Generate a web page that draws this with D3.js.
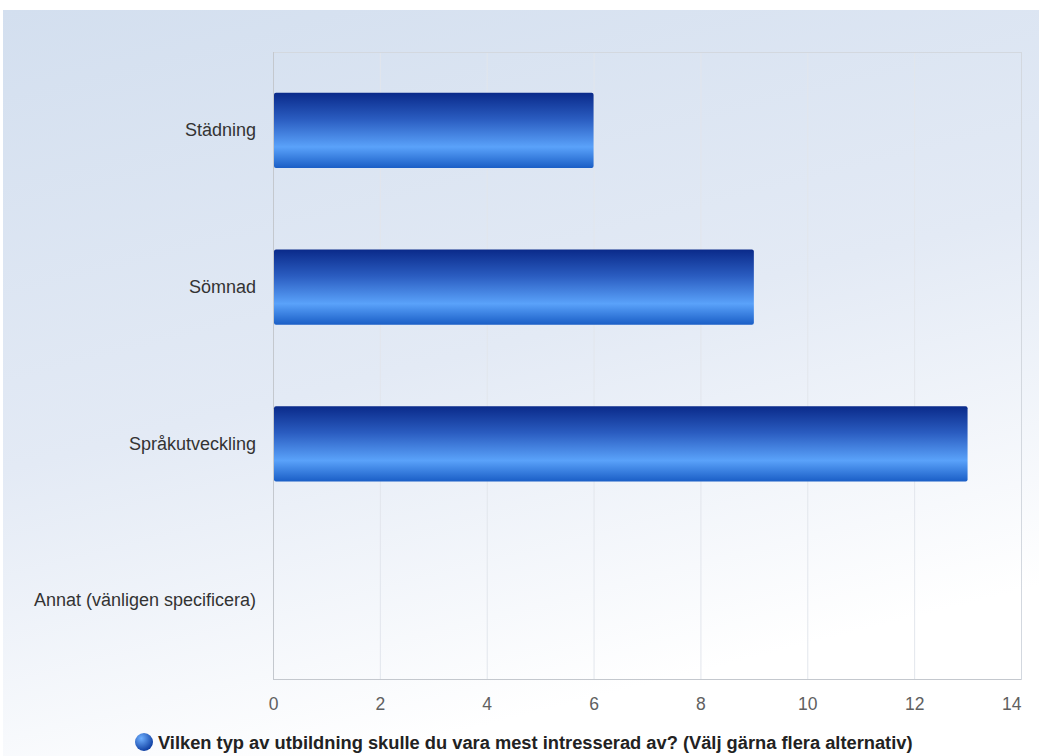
<!DOCTYPE html>
<html><head><meta charset="utf-8">
<script src="https://cdn.jsdelivr.net/npm/d3@7"></script>
<style>body{margin:0;background:#fff;}svg{display:block;font-family:"Liberation Sans",Arial,sans-serif;}</style>
</head><body>
<svg id="c" width="1039" height="756"></svg>
<script>
const categories = ["Städning", "Sömnad", "Språkutveckling", "Annat (vänligen specificera)"];
const values = [6, 9, 13, 0];
const xTicks = [0, 2, 4, 6, 8, 10, 12, 14];
const seriesName = "Vilken typ av utbildning skulle du vara mest intresserad av? (Välj gärna flera alternativ)";

const svg = d3.select("#c");
const W = 1039, H = 756;
const m = {left: 273, top: 52, right: 1021, bottom: 679};
const defs = svg.append("defs");
const bg = defs.append("linearGradient").attr("id","bg").attr("x1","0").attr("y1","0").attr("x2","0.35").attr("y2","1");
bg.append("stop").attr("offset","0").attr("stop-color","#d3dfef");
bg.append("stop").attr("offset","0.55").attr("stop-color","#e3eaf5");
bg.append("stop").attr("offset","1").attr("stop-color","#ffffff");
const bar = defs.append("linearGradient").attr("id","bar").attr("x1","0").attr("y1","0").attr("x2","0").attr("y2","1");
[["0","#0a2a8a"],["0.35","#2a5cc0"],["0.72","#5aa2fa"],["1","#1a5ec6"]].forEach(s=>bar.append("stop").attr("offset",s[0]).attr("stop-color",s[1]));
const leg = defs.append("radialGradient").attr("id","leg").attr("cx","0.35").attr("cy","0.3").attr("r","0.75");
leg.append("stop").attr("offset","0").attr("stop-color","#6fb0ff");
leg.append("stop").attr("offset","1").attr("stop-color","#0b3a9e");

svg.append("rect").attr("x",3).attr("y",10).attr("width",W-3).attr("height",H-10).attr("fill","url(#bg)");

const x = d3.scaleLinear().domain([0,14]).range([m.left, m.right]);
const y = d3.scaleBand().domain(categories).range([m.top, m.bottom]).paddingInner(0.52).paddingOuter(0.26);

// grid
svg.append("g").selectAll("line").data(xTicks.slice(1,-1)).join("line")
  .attr("x1",d=>x(d)+0.5).attr("x2",d=>x(d)+0.5).attr("y1",m.top).attr("y2",m.bottom)
  .attr("stroke","#e2e6ec").attr("stroke-width",1);
svg.append("rect").attr("x",m.left+0.5).attr("y",m.top+0.5).attr("width",m.right-m.left).attr("height",m.bottom-m.top)
  .attr("fill","none").attr("stroke","#d3d8df");
svg.append("line").attr("x1",m.left+0.5).attr("x2",m.left+0.5).attr("y1",m.top).attr("y2",m.bottom).attr("stroke","#c4c8ce");
svg.append("line").attr("x1",m.left).attr("x2",m.right).attr("y1",m.bottom+0.5).attr("y2",m.bottom+0.5).attr("stroke","#c4c8ce");

// bars
svg.append("g").selectAll("rect").data(categories.map((c,i)=>({c,v:values[i]})).filter(d=>d.v>0)).join("rect")
  .attr("x",x(0)+1).attr("y",d=>y(d.c)).attr("width",d=>x(d.v)-x(0)-1).attr("height",y.bandwidth())
  .attr("rx",2).attr("fill","url(#bar)");

// x axis labels
const xa = svg.append("g").attr("transform",`translate(0,${m.bottom})`).call(d3.axisBottom(x).tickValues(xTicks).tickSize(0).tickPadding(19));
xa.select(".domain").remove();
xa.attr("font-size",null).attr("font-family",null);
xa.selectAll("text").style("font-size","17.5px").attr("fill","#606060")
  .attr("text-anchor",d=>d===14?"end":"middle");

// y axis labels
const ya = svg.append("g").attr("transform",`translate(${m.left},0)`).call(d3.axisLeft(y).tickSize(0).tickPadding(17));
ya.select(".domain").remove();
ya.attr("font-size",null).attr("font-family",null);
ya.selectAll("text").style("font-size","18px").attr("fill","#333");

// legend
const lg = svg.append("g");
lg.append("text").attr("x",158).attr("y",749).style("font-size","18.3px").attr("font-weight","bold").attr("fill","#222").text(seriesName);
lg.append("circle").attr("cx",144).attr("cy",742).attr("r",9).attr("fill","url(#leg)");
</script>
</body></html>
